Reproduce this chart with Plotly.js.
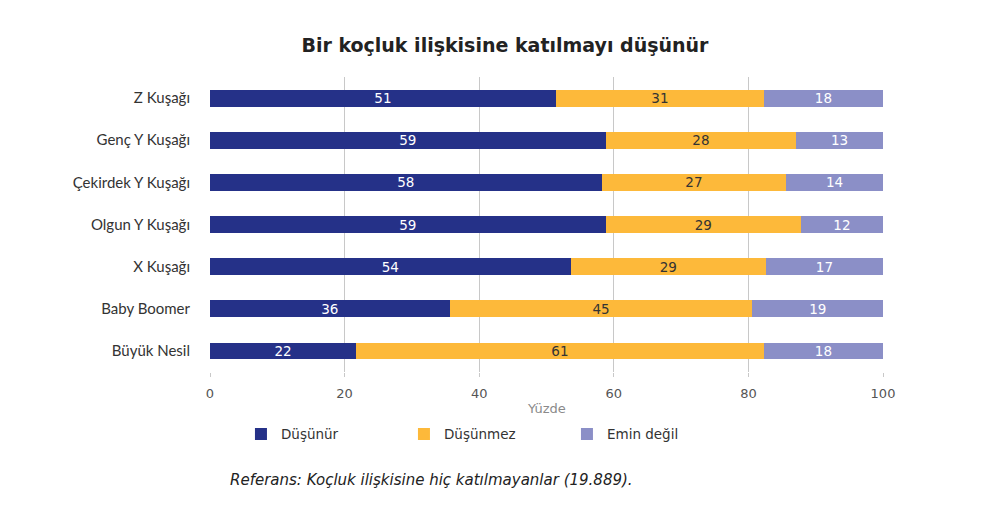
<!DOCTYPE html>
<html>
<head>
<meta charset="utf-8">
<script src="https://cdn.plot.ly/plotly-3.0.1.min.js"></script>
<style>
  body { margin: 0; background: #fff; }
  #chart { width: 994px; height: 521px; }
</style>
</head>
<body>
<div id="chart"></div>
<script>
// nesiller, yukaridan asagiya
let kusaklar = ["Z Kuşağı", "Genç Y Kuşağı", "Çekirdek Y Kuşağı", "Olgun Y Kuşağı", "X Kuşağı", "Baby Boomer", "Büyük Nesil"];
let dusunur = [51.4, 58.8, 58.2, 58.8, 53.6, 35.6, 21.7];
let dusunmez = [30.9, 28.3, 27.4, 29.0, 29.0, 45.0, 60.6];
let eminDegil = [17.7, 12.9, 14.4, 12.2, 17.4, 19.4, 17.7];
let xTicks = [0, 20, 40, 60, 80, 100];

let seriler = [
    { name: "Düşünür", values: dusunur, color: "#253188", textColor: "#ffffff" },
    { name: "Düşünmez", values: dusunmez, color: "#fdb93a", textColor: "#333333" },
    { name: "Emin değil", values: eminDegil, color: "#8b8fc7", textColor: "#ffffff" }
];

let data = [];
for (let i = 0; i < seriler.length; i++) {
    let s = seriler[i];
    data.push({
        type: "bar",
        orientation: "h",
        name: s.name,
        y: kusaklar,
        x: s.values,
        text: s.values.map(v => String(Math.round(v))),
        textposition: "inside",
        insidetextanchor: "middle",
        textangle: 0,
        constraintext: "none",
        textfont: { family: "DejaVu Sans", size: 13.5, color: s.textColor },
        marker: { color: s.color, line: { width: 0 } },
        hoverinfo: "skip"
    });
}

let layout = {
    width: 994,
    height: 521,
    barmode: "stack",
    bargap: 0.6,
    paper_bgcolor: "#ffffff",
    plot_bgcolor: "#ffffff",
    margin: { l: 210, r: 111, t: 77, b: 149 },
    title: {
        text: "<b>Bir koçluk ilişkisine katılmayı düşünür</b>",
        font: { family: "DejaVu Sans", size: 19, color: "#222222" },
        x: 0.508, xanchor: "center", y: 0.913, yanchor: "middle"
    },
    xaxis: {
        range: [0, 100],
        tickvals: xTicks,
        ticks: "outside",
        ticklen: 4,
        tickcolor: "#c8c8c8",
        ticklabelstandoff: 5,
        showgrid: true,
        gridcolor: "#c8c8c8",
        gridwidth: 1,
        zeroline: false,
        showline: false,
        tickfont: { family: "DejaVu Sans", size: 13, color: "#555555" },
        fixedrange: true
    },
    yaxis: {
        autorange: "reversed",
        showgrid: false,
        zeroline: false,
        ticks: "",
        ticklabelstandoff: 19,
        tickfont: { family: "Lato", size: 15, color: "#333333" },
        fixedrange: true
    },
    showlegend: true,
    legend: {
        orientation: "h",
        traceorder: "normal",
        x: 0.046, xanchor: "left",
        y: -0.211, yanchor: "middle",
        entrywidth: 118,
        entrywidthmode: "pixels",
        font: { family: "DejaVu Sans", size: 13.5, color: "#333333" },
        itemclick: false,
        itemdoubleclick: false
    },
    annotations: [
        {
            text: "Yüzde",
            xref: "paper", yref: "paper",
            x: 0.5, y: -0.125, xanchor: "center", yanchor: "middle",
            showarrow: false,
            font: { family: "DejaVu Sans", size: 13, color: "#8a8a8a" }
        },
        {
            text: "Referans: Koçluk ilişkisine hiç katılmayanlar (19.889).",
            xref: "paper", yref: "paper",
            x: 0.027, y: -0.365, xanchor: "left", yanchor: "middle",
            showarrow: false,
            font: { family: "DejaVu Sans", size: 15, color: "#222222", style: "italic" }
        }
    ]
};

Plotly.newPlot("chart", data, layout, { displayModeBar: false, staticPlot: true });
</script>
</body>
</html>
